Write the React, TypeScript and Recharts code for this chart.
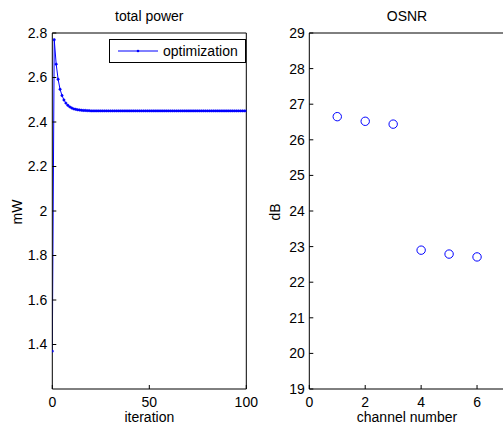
import { LineChart, Line, XAxis, YAxis, Legend, ScatterChart, Scatter } from 'recharts';

const FONT = '"Liberation Sans", Arial, Helvetica, sans-serif';
const BLUE = '#0000ff';

// total power per iteration (index = iteration number)
const totalPower = [
  1.37, 2.77, 2.66, 2.592, 2.547, 2.519, 2.499, 2.485, 2.475, 2.468,
  2.463, 2.459, 2.457, 2.455, 2.454, 2.453, 2.452, 2.452, 2.451, 2.451,
  2.45, 2.45, 2.45, 2.45, 2.45, 2.45, 2.45, 2.45, 2.45, 2.45,
  2.45, 2.45, 2.45, 2.45, 2.45, 2.45, 2.45, 2.45, 2.45, 2.45,
  2.45, 2.45, 2.45, 2.45, 2.45, 2.45, 2.45, 2.45, 2.45, 2.45,
  2.45, 2.45, 2.45, 2.45, 2.45, 2.45, 2.45, 2.45, 2.45, 2.45,
  2.45, 2.45, 2.45, 2.45, 2.45, 2.45, 2.45, 2.45, 2.45, 2.45,
  2.45, 2.45, 2.45, 2.45, 2.45, 2.45, 2.45, 2.45, 2.45, 2.45,
  2.45, 2.45, 2.45, 2.45, 2.45, 2.45, 2.45, 2.45, 2.45, 2.45,
  2.45, 2.45, 2.45, 2.45, 2.45, 2.45, 2.45, 2.45, 2.45, 2.45,
  2.45,
];
const powerTicks = [1.4, 1.6, 1.8, 2, 2.2, 2.4, 2.6, 2.8];
const iterationTicks = [0, 50, 100];

const channels = [1, 2, 3, 4, 5, 6];
const osnr = [26.65, 26.52, 26.44, 22.9, 22.79, 22.71];
const osnrTicks = [19, 20, 21, 22, 23, 24, 25, 26, 27, 28, 29];
const channelTicks = [0, 2, 4, 6];

const powerData = totalPower.map((p, i) => ({ iteration: i, power: p }));
const osnrData = channels.map((c, i) => ({ channel: c, osnr: osnr[i] }));

const tickStyle = { fill: '#000', fontSize: 14, fontFamily: FONT };
const line = { stroke: '#000' };

const LegendBox = (props: any) => {
  const name = props.payload && props.payload[0] ? props.payload[0].value : '';
  return (
    <div
      style={{
        boxSizing: 'border-box',
        width: 137,
        height: 24,
        border: '1px solid #000',
        background: '#fff',
        display: 'flex',
        alignItems: 'center',
        fontFamily: FONT,
        fontSize: 14,
        color: '#000',
      }}
    >
      <svg width={40} height={8} style={{ marginLeft: 8 }}>
        <line x1={0} y1={4} x2={40} y2={4} stroke={BLUE} />
        <circle cx={20} cy={4} r={1.3} fill={BLUE} />
      </svg>
      <span style={{ marginLeft: 5 }}>{name}</span>
    </div>
  );
};

const OpenCircle = (props: any) => (
  <circle cx={props.cx} cy={props.cy} r={4.2} fill="none" stroke={BLUE} strokeWidth={1} />
);

const textBase = {
  position: 'absolute' as const,
  fontFamily: FONT,
  fontSize: 14,
  lineHeight: '14px',
  color: '#000',
  textAlign: 'center' as const,
  whiteSpace: 'nowrap' as const,
};

export default function App() {
  return (
    <div
      style={{
        position: 'fixed',
        left: 0,
        top: 0,
        width: 503,
        height: 423,
        overflow: 'hidden',
        background: '#fff',
      }}
    >
      <div style={{ position: 'absolute', left: 0, top: 0 }}>
        <LineChart
          width={260}
          height={423}
          data={powerData}
          margin={{ top: 32, right: 12.7, bottom: 14, left: 12.3 }}
        >
          <XAxis
            dataKey="iteration"
            type="number"
            domain={[0, 100]}
            ticks={iterationTicks}
            allowDataOverflow
            height={20}
            tick={tickStyle}
            tickSize={-4}
            tickMargin={12}
            axisLine={line}
            tickLine={line}
          />
          <XAxis
            xAxisId="top"
            orientation="top"
            type="number"
            domain={[0, 100]}
            ticks={iterationTicks}
            allowDataOverflow
            height={1}
            tick={false}
            tickSize={-4}
            axisLine={line}
            tickLine={line}
          />
          <YAxis
            type="number"
            domain={[1.2, 2.8]}
            ticks={powerTicks}
            allowDataOverflow
            width={40}
            tick={tickStyle}
            tickSize={-4}
            tickMargin={9}
            tickFormatter={(v: number) => String(Number(v.toFixed(1)))}
            axisLine={line}
            tickLine={line}
          />
          <YAxis
            yAxisId="right"
            orientation="right"
            type="number"
            domain={[1.2, 2.8]}
            ticks={powerTicks}
            allowDataOverflow
            width={1}
            tick={false}
            tickSize={-4}
            axisLine={line}
            tickLine={line}
          />
          <Legend
            layout="horizontal"
            verticalAlign="middle"
            align="center"
            wrapperStyle={{ left: 109, top: 39, width: 137, height: 24 }}
            content={<LegendBox />}
          />
          <Line
            name="optimization"
            dataKey="power"
            stroke={BLUE}
            strokeWidth={1}
            dot={{ r: 1.2, fill: BLUE, stroke: BLUE, strokeWidth: 0.5 }}
            isAnimationActive={false}
          />
        </LineChart>
      </div>

      <div style={{ position: 'absolute', left: 260, top: 0 }}>
        <ScatterChart
          width={260}
          height={423}
          margin={{ top: 32, right: 14, bottom: 14, left: 19.3 }}
        >
          <XAxis
            dataKey="channel"
            type="number"
            domain={[0, 7]}
            ticks={channelTicks}
            allowDataOverflow
            height={20}
            tick={tickStyle}
            tickSize={-4}
            tickMargin={12}
            axisLine={line}
            tickLine={line}
          />
          <XAxis
            xAxisId="top"
            orientation="top"
            type="number"
            domain={[0, 7]}
            ticks={channelTicks}
            allowDataOverflow
            height={1}
            tick={false}
            tickSize={-4}
            axisLine={line}
            tickLine={line}
          />
          <YAxis
            dataKey="osnr"
            type="number"
            domain={[19, 29]}
            ticks={osnrTicks}
            allowDataOverflow
            width={30}
            tick={tickStyle}
            tickSize={-4}
            tickMargin={8.5}
            axisLine={line}
            tickLine={line}
          />
          <YAxis
            yAxisId="right"
            orientation="right"
            type="number"
            domain={[19, 29]}
            ticks={osnrTicks}
            allowDataOverflow
            width={1}
            tick={false}
            tickSize={-4}
            axisLine={line}
            tickLine={line}
          />
          <Scatter data={osnrData} shape={<OpenCircle />} isAnimationActive={false} />
        </ScatterChart>
      </div>

      <div style={{ ...textBase, left: 49.3, width: 200, top: 9 }}>total power</div>
      <div style={{ ...textBase, left: 307, width: 200, top: 9 }}>OSNR</div>
      <div style={{ ...textBase, left: 49.3, width: 200, top: 410.5, lineHeight: '12px', height: 12 }}>iteration</div>
      <div style={{ ...textBase, left: 307, width: 200, top: 410.5, lineHeight: '12px', height: 12 }}>channel number</div>
      <div
        style={{ ...textBase, left: 16.7 - 20, top: 211.7 - 7, width: 40, height: 14, transform: 'rotate(-90deg)' }}
      >
        mW
      </div>
      <div
        style={{ ...textBase, left: 275 - 20, top: 212 - 7, width: 40, height: 14, transform: 'rotate(-90deg)' }}
      >
        dB
      </div>
    </div>
  );
}
